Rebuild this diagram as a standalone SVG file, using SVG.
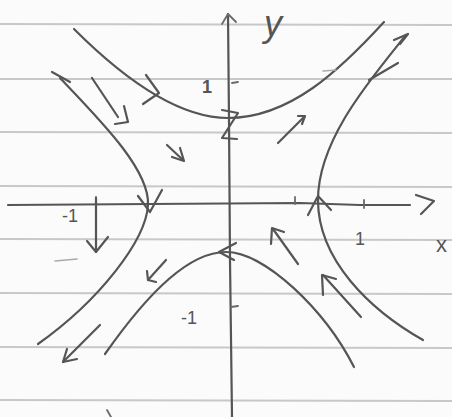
<svg xmlns="http://www.w3.org/2000/svg" width="452" height="417" viewBox="0 0 452 417">
<style>
.paper{stroke:#c8c8c8;stroke-width:2;fill:none}
.pen{stroke:#555;stroke-width:2.2;fill:none;stroke-linecap:round;stroke-linejoin:round}
.thin{stroke:#6a6a6a;stroke-width:1.8;fill:none;stroke-linecap:round;stroke-linejoin:round}
.faint{stroke:#aaa;stroke-width:1.5;fill:none;stroke-linecap:round}
.lbl{font-family:"Liberation Sans",Arial,sans-serif;fill:#555}
</style>
<rect width="452" height="417" fill="#fbfbfb"/>
<g id="paper-lines">
<line class="paper" x1="0" y1="24" x2="452" y2="25"/>
<line class="paper" x1="0" y1="79" x2="452" y2="79"/>
<line class="paper" x1="0" y1="132" x2="452" y2="133"/>
<line class="paper" x1="0" y1="186" x2="452" y2="187"/>
<line class="paper" x1="0" y1="239" x2="452" y2="240"/>
<line class="paper" x1="0" y1="293" x2="452" y2="294"/>
<line class="paper" x1="0" y1="347" x2="452" y2="348"/>
<line class="paper" x1="0" y1="400" x2="452" y2="401"/>
</g>
<g id="axes">
<path class="pen" d="M228,14 L229,120 L230,260 L232,417"/>
<path class="thin" d="M222,24 L228,14 L236,22"/>
<path class="pen" d="M8,205 L150,204 L300,203 L360,205 L410,205"/>
<path class="pen" d="M416,195 L434,201 L421,214"/>
<path class="thin" d="M96,197 L96,206"/>
<path class="thin" d="M295,197 L295,204"/>
<path class="thin" d="M364,200 L364,208"/>
<path class="thin" d="M232,83 L238,82"/>
<path class="thin" d="M231,307 L238,306"/>
<text class="lbl" x="264" y="36" font-size="36" font-style="italic">y</text>
<text class="lbl" x="436" y="252" font-size="22">x</text>
<text class="lbl" x="62" y="222" font-size="18">-1</text>
<text class="lbl" x="355" y="245" font-size="18">1</text>
<text class="lbl" x="202" y="93" font-size="18" font-weight="bold">1</text>
<text class="lbl" x="181" y="324" font-size="18">-1</text>
</g>
<g id="curves">
<path class="pen" d="M74,29 C110,65 170,118 228,118 C290,118 340,70 384,22"/>
<path class="pen" d="M60,78 C100,120 150,170 148,205 C146,240 100,300 38,344"/>
<path class="pen" d="M52,72 L70,82"/>
<path class="pen" d="M406,35 C370,80 318,140 318,200 C318,260 370,310 423,340"/>
<path class="pen" d="M105,354 C150,290 190,252 226,252 C265,252 325,310 354,367"/>
</g>
<g id="curve-arrows">
<path class="pen" d="M146,75 L159,93 L143,104"/>
<path class="pen" d="M138,196 L150,212 L162,190"/>
<path class="pen" d="M394,40 L408,34 L400,44"/>
<path class="pen" d="M369,80 L398,63"/>
<path class="pen" d="M308,215 L318,196 L331,210"/>
<path class="pen" d="M236,243 L219,252 L234,260"/>
<path class="pen" d="M222,110 L238,113 L222,138 L237,139"/>
</g>
<g id="field-arrows">
<path class="pen" d="M92,78 L118,117"/>
<path class="pen" d="M124,106 L128,122 L115,124"/>
<path class="pen" d="M167,145 L183,160"/>
<path class="pen" d="M180,148 L184,161 L172,157"/>
<path class="pen" d="M278,143 L304,117"/>
<path class="pen" d="M298,116 L305,116 L302,124"/>
<path class="pen" d="M96,198 L96,252"/>
<path class="pen" d="M87,241 L96,252 L108,237"/>
<path class="pen" d="M166,260 L148,280"/>
<path class="pen" d="M147,271 L148,280 L156,282"/>
<path class="pen" d="M100,325 L63,362"/>
<path class="pen" d="M67,349 L63,362 L77,359"/>
<path class="pen" d="M298,264 L273,229"/>
<path class="pen" d="M271,244 L272,228 L284,232"/>
<path class="pen" d="M361,317 L323,275"/>
<path class="pen" d="M323,295 L322,275 L336,279"/>
</g>
<g id="marks">
<path class="faint" d="M55,261 L77,259"/>
<path class="faint" d="M323,71 L336,70"/>
<path class="thin" d="M107,410 L111,417"/>
</g>
</svg>
